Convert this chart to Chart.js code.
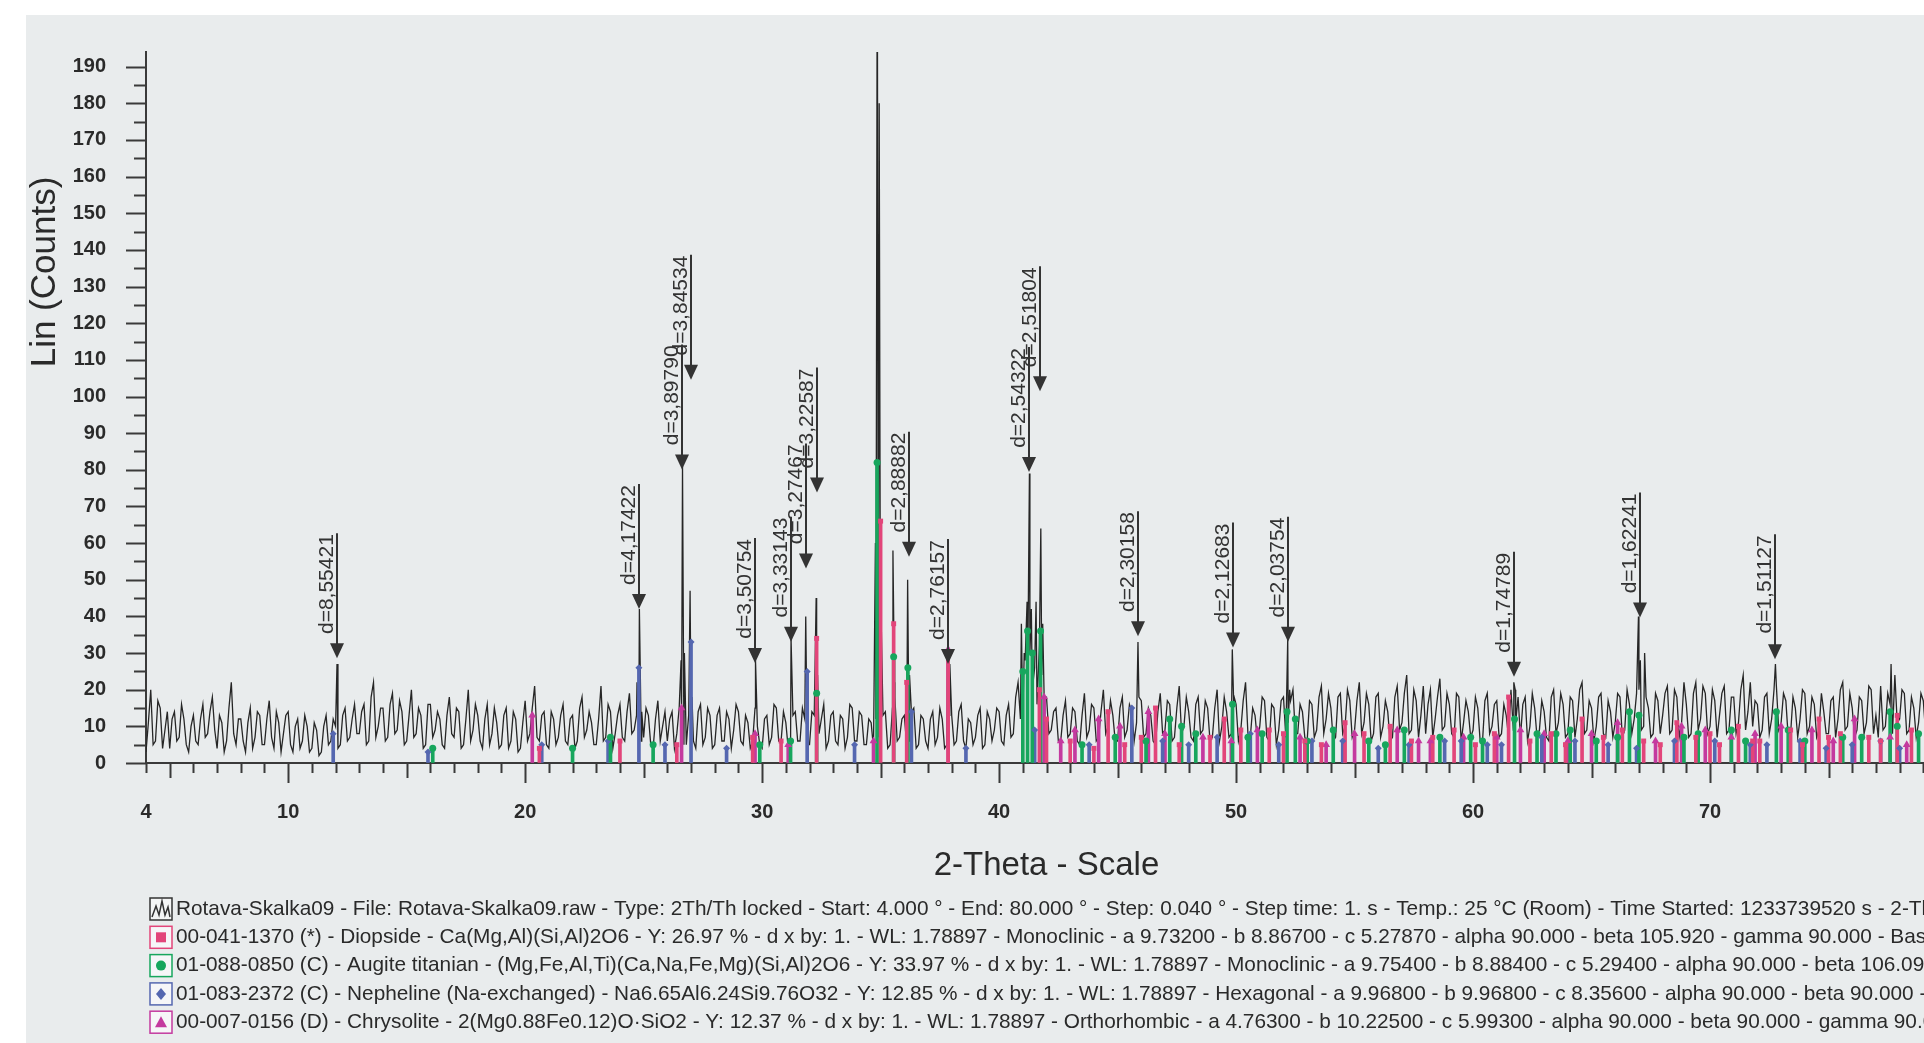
<!DOCTYPE html>
<html>
<head>
<meta charset="utf-8">
<title>Rotava-Skalka09</title>
<script src="https://cdn.jsdelivr.net/npm/chart.js@4.4.1/dist/chart.umd.min.js"></script>
<style>
  html, body { margin: 0; padding: 0; overflow: hidden; background: #fff; }
  canvas { display: block; }
</style>
</head>
<body>
<canvas id="xrd" width="1960" height="1043"></canvas>
<script>
const scanStart = 4.0
const scanStep = 0.1
const scanCounts = [
  3, 11, 20, 5, 6, 17, 15, 4, 9, 14,
  4, 12, 14, 6, 7, 16, 12, 5, 3, 10,
  13, 6, 5, 12, 16, 7, 8, 14, 18, 9,
  4, 13, 11, 3, 6, 15, 22, 8, 5, 12,
  12, 6, 3, 11, 15, 4, 7, 14, 13, 5,
  5, 12, 17, 7, 4, 14, 11, 3, 8, 13,
  14, 5, 3, 10, 12, 4, 6, 13, 10, 3,
  4, 11, 9, 2, 3, 10, 13, 5, 6, 12,
  10, 4, 5, 13, 15, 6, 7, 12, 16, 8,
  8, 14, 16, 5, 6, 18, 22, 7, 10, 15,
  15, 6, 7, 16, 19, 8, 9, 17, 14, 5,
  6, 13, 20, 7, 8, 15, 13, 4, 5, 16,
  16, 7, 9, 14, 12, 5, 4, 13, 18, 8,
  7, 15, 14, 4, 5, 12, 20, 6, 9, 16,
  13, 6, 4, 12, 16, 5, 8, 15, 11, 4,
  5, 13, 15, 4, 6, 14, 12, 3, 4, 11,
  17, 6, 8, 15, 21, 7, 6, 13, 14, 5,
  4, 14, 12, 5, 7, 13, 16, 6, 5, 12,
  13, 4, 6, 15, 18, 7, 9, 14, 11, 5,
  5, 12, 21, 6, 7, 16, 14, 4, 8, 13,
  16, 7, 6, 14, 19, 8, 9, 13, 15, 6,
  7, 15, 13, 5, 4, 12, 17, 6, 10, 14,
  6, 12, 14, 4, 8, 15, 11, 5, 5, 13,
  12, 6, 4, 14, 16, 5, 7, 15, 13, 4,
  5, 13, 15, 6, 6, 14, 12, 4, 9, 16,
  14, 6, 5, 13, 11, 4, 6, 15, 10, 5,
  4, 12, 13, 5, 7, 16, 15, 6, 6, 14,
  11, 4, 5, 13, 14, 6, 6, 15, 12, 5,
  5, 14, 13, 6, 8, 12, 16, 4, 6, 13,
  14, 6, 5, 13, 12, 4, 7, 16, 15, 6,
  6, 14, 13, 5, 5, 12, 11, 4, 12, 7,
  8, 13, 14, 4, 5, 15, 18, 6, 7, 12,
  13, 5, 6, 14, 15, 4, 5, 13, 12, 6,
  4, 12, 14, 5, 7, 15, 12, 4, 5, 13,
  13, 5, 6, 14, 16, 6, 4, 12, 11, 5,
  7, 13, 15, 4, 5, 14, 12, 6, 9, 15,
  14, 6, 5, 13, 16, 7, 8, 18, 22, 12,
  12, 28, 18, 30, 20, 26, 16, 32, 24, 18,
  18, 8, 9, 14, 15, 6, 6, 13, 17, 7,
  8, 15, 14, 6, 5, 13, 19, 7, 9, 16,
  15, 6, 7, 14, 20, 8, 10, 17, 13, 6,
  6, 15, 18, 7, 9, 16, 14, 6, 11, 18,
  17, 7, 8, 15, 13, 6, 5, 14, 19, 8,
  9, 17, 16, 6, 7, 15, 21, 8, 10, 18,
  14, 7, 6, 16, 18, 8, 9, 17, 15, 6,
  7, 15, 20, 6, 10, 18, 14, 7, 8, 16,
  16, 6, 9, 17, 22, 8, 7, 15, 13, 6,
  10, 18, 17, 7, 6, 16, 15, 5, 9, 17,
  18, 7, 11, 17, 20, 8, 8, 16, 14, 7,
  6, 17, 16, 7, 9, 18, 21, 8, 12, 19,
  15, 6, 7, 18, 19, 8, 10, 20, 17, 7,
  9, 17, 22, 8, 11, 19, 16, 6, 8, 18,
  19, 7, 10, 17, 14, 6, 7, 18, 21, 9,
  11, 19, 24, 8, 9, 20, 17, 7, 13, 21,
  8, 16, 20, 7, 12, 18, 23, 9, 10, 19,
  16, 8, 7, 19, 18, 6, 11, 17, 14, 7,
  9, 18, 15, 6, 6, 17, 19, 8, 10, 16,
  17, 7, 8, 16, 13, 7, 20, 9, 11, 18,
  7, 16, 18, 6, 10, 19, 15, 7, 9, 17,
  14, 7, 6, 18, 20, 8, 11, 19, 16, 7,
  8, 18, 17, 7, 12, 20, 22, 8, 9, 17,
  15, 6, 10, 18, 19, 8, 7, 17, 14, 7,
  11, 19, 18, 7, 9, 20, 16, 8, 12, 19,
  20, 9, 10, 18, 15, 7, 8, 19, 17, 8,
  13, 19, 21, 8, 9, 20, 18, 7, 11, 22,
  16, 7, 8, 19, 22, 9, 12, 21, 19, 8,
  10, 20, 17, 7, 13, 19, 21, 8, 9, 18,
  18, 8, 11, 20, 24, 9, 14, 22, 10, 17,
  16, 7, 9, 18, 19, 8, 12, 20, 21, 9,
  11, 19, 17, 7, 8, 18, 15, 7, 12, 20,
  19, 8, 10, 18, 16, 7, 9, 19, 14, 8,
  8, 17, 18, 7, 12, 20, 22, 9, 10, 19,
  15, 7, 9, 18, 17, 8, 11, 21, 20, 8,
  13, 7, 21, 9, 10, 19, 16, 8, 24, 11,
  12, 20, 19, 8, 9, 18, 15, 7, 11, 19,
  17, 8, 10, 18, 14, 7, 8, 17, 16, 9,
  12
]
// sharp reflections of the scan [2-theta, counts]
const peakPoints = [
  [12.06, 27], [24.72, 22], [24.82, 42], [24.92, 14], [26.58, 28], [26.64, 81], [26.72, 30],
  [26.96, 47], [27.04, 18], [29.72, 28], [31.22, 34], [31.84, 40], [32.28, 45], [32.34, 24],
  [34.78, 60], [34.86, 235], [34.94, 180], [35.02, 40], [35.52, 58], [35.58, 22], [36.14, 50],
  [36.22, 24], [37.82, 30], [37.92, 27], [40.94, 38], [41.06, 30], [41.18, 44], [41.28, 79],
  [41.36, 42], [41.56, 44], [41.76, 64], [41.84, 38], [45.86, 33], [49.84, 31], [49.92, 18],
  [52.18, 34], [52.26, 20], [61.72, 22], [61.78, 20], [66.98, 40], [67.06, 28], [67.24, 30],
  [72.76, 27], [77.64, 27]
]

// d-spacing markers: label, 2-theta, counts at arrow tip
const dLabels = ['d=8,55421', 'd=4,17422', 'd=3,89790', 'd=3,84534', 'd=3,50754', 'd=3,33143',
  'd=3,27467', 'd=3,22587', 'd=2,88882', 'd=2,76157', 'd=2,54322', 'd=2,51804', 'd=2,30158',
  'd=2,12683', 'd=2,03754', 'd=1,74789', 'd=1,62241', 'd=1,51127']
const dTheta = [12.07, 24.81, 26.62, 26.98, 29.72, 31.23, 31.85, 32.31, 36.19, 37.85, 41.27, 41.73,
  45.87, 49.86, 52.19, 61.71, 67.04, 72.74]
const dTip = [28.6, 42.0, 80.1, 104.6, 27.3, 33.1, 53.1, 73.8, 56.3, 27.0, 79.4, 101.4,
  34.6, 31.5, 33.1, 23.5, 39.7, 28.3]

// reference patterns (stick positions and heights)
const diopside2T = [20.6, 24.0, 26.4, 29.6, 30.8, 32.3, 35.0, 35.55, 36.1, 37.85, 41.7, 42.0, 43.0, 44.0,
  44.6, 45.3, 46.0, 46.6, 47.6, 48.9, 49.5, 50.2, 51.4, 52.0, 52.9, 53.6, 54.6, 55.4, 56.5, 57.4, 58.3,
  59.2, 60.1, 60.9, 61.5, 62.4, 63.3, 63.9, 64.6, 65.5, 66.3, 67.2, 67.9, 68.6, 69.4, 70.0, 70.4, 71.2,
  71.8, 72.1, 73.4, 73.9, 74.6, 75.0, 75.5, 76.7, 77.2, 77.9, 78.5]
const diopsideI = [4, 6, 5, 7, 6, 34, 66, 38, 22, 30, 20, 12, 6, 4, 14, 5, 7, 15, 5, 7, 12, 9, 9, 8, 6,
  5, 11, 8, 10, 6, 7, 9, 5, 8, 18, 6, 8, 5, 12, 7, 9, 6, 5, 11, 7, 8, 5, 10, 6, 6, 9, 5, 12, 7, 8, 7,
  6, 13, 9]
const augite2T = [16.1, 22.0, 23.6, 25.4, 29.9, 31.2, 32.3, 34.85, 35.55, 36.15, 41.0, 41.2, 41.4, 41.75,
  43.5, 44.9, 46.2, 47.2, 47.7, 48.3, 49.85, 50.5, 51.1, 52.15, 52.5, 53.0, 54.1, 55.6, 56.3, 57.1, 58.6,
  59.9, 60.4, 61.75, 62.7, 63.5, 64.1, 65.2, 66.1, 66.6, 67.0, 68.9, 69.5, 70.9, 71.5, 72.8, 73.3, 74.0,
  75.6, 76.4, 77.6, 77.9, 78.8]
const augiteI = [4, 4, 7, 5, 5, 6, 19, 82, 29, 26, 25, 36, 30, 36, 5, 7, 6, 12, 10, 8, 16, 7, 8, 14, 12,
  6, 9, 6, 5, 9, 7, 7, 6, 12, 8, 8, 9, 6, 7, 14, 13, 7, 8, 9, 6, 14, 9, 6, 7, 7, 14, 10, 8]
const nepheline2T = [11.9, 15.9, 20.7, 23.5, 24.8, 25.9, 27.0, 28.5, 31.9, 33.9, 36.3, 38.6, 41.5, 43.8,
  45.6, 46.9, 48.0, 49.2, 50.6, 51.8, 53.2, 54.5, 56.0, 57.3, 58.8, 59.5, 60.6, 61.2, 62.9, 64.3, 65.7,
  66.9, 68.5, 70.2, 71.7, 72.4, 73.8, 74.9, 76.0, 77.2, 78.0]
const nephelineI = [8, 3, 5, 6, 26, 5, 33, 4, 25, 5, 14, 4, 9, 5, 15, 6, 5, 7, 8, 5, 6, 6, 4, 5, 6, 6, 5,
  5, 7, 6, 5, 4, 6, 6, 5, 5, 6, 4, 5, 6, 4]
const chrysolite2T = [20.3, 26.6, 29.7, 31.1, 34.7, 37.85, 41.9, 42.6, 43.2, 44.2, 45.1, 46.3, 47.0, 48.6,
  49.8, 50.9, 52.7, 53.8, 55.0, 56.8, 57.7, 58.2, 59.6, 61.0, 62.0, 63.0, 64.0, 65.0, 66.1, 67.7, 68.8,
  69.8, 70.9, 71.9, 73.0, 74.3, 75.2, 76.1, 77.6, 78.3]
const chrysoliteI = [13, 15, 8, 5, 6, 31, 18, 6, 9, 12, 10, 14, 8, 7, 6, 9, 7, 5, 8, 9, 6, 6, 7, 7, 9, 8,
  6, 8, 11, 6, 10, 9, 7, 8, 10, 9, 6, 12, 7, 5]

const xTickValues = [4, 10, 20, 30, 40, 50, 60, 70]
const yTickValues = [0, 10, 20, 30, 40, 50, 60, 70, 80, 90, 100, 110, 120, 130, 140, 150, 160, 170, 180, 190]

const scanLabel = 'Rotava-Skalka09 - File: Rotava-Skalka09.raw - Type: 2Th/Th locked - Start: 4.000 ° - End: 80.000 ° - Step: 0.040 ° - Step time: 1. s - Temp.: 25 °C (Room) - Time Started: 1233739520 s - 2-Theta: 4.000 °'
const phaseLabels = [
  '00-041-1370 (*) - Diopside - Ca(Mg,Al)(Si,Al)2O6 - Y: 26.97 % - d x by: 1. - WL: 1.78897 - Monoclinic - a 9.73200 - b 8.86700 - c 5.27870 - alpha 90.000 - beta 105.920 - gamma 90.000 - Base-centered',
  '01-088-0850 (C) - Augite titanian - (Mg,Fe,Al,Ti)(Ca,Na,Fe,Mg)(Si,Al)2O6 - Y: 33.97 % - d x by: 1. - WL: 1.78897 - Monoclinic - a 9.75400 - b 8.88400 - c 5.29400 - alpha 90.000 - beta 106.090 - gamma 90.000',
  '01-083-2372 (C) - Nepheline (Na-exchanged) - Na6.65Al6.24Si9.76O32 - Y: 12.85 % - d x by: 1. - WL: 1.78897 - Hexagonal - a 9.96800 - b 9.96800 - c 8.35600 - alpha 90.000 - beta 90.000 - gamma 120.000',
  '00-007-0156 (D) - Chrysolite - 2(Mg0.88Fe0.12)O·SiO2 - Y: 12.37 % - d x by: 1. - WL: 1.78897 - Orthorhombic - a 4.76300 - b 10.22500 - c 5.99300 - alpha 90.000 - beta 90.000 - gamma 90.000'
]
const phaseColors = ['#e2457a', '#17a65d', '#5567b0', '#c43a9f']
const phaseMarkers = ['rect', 'circle', 'rectRot', 'triangle']

const FONT = '"Liberation Sans", Arial, sans-serif'
const INK = '#2a2a2a'

// build line data: regular scan points plus the sharp peaks, sorted by 2-theta
const scanPoints = scanCounts.map((c, i) => ({ x: +(scanStart + i * scanStep).toFixed(2), y: c }))
const linePoints = scanPoints.concat(peakPoints.map(p => ({ x: p[0], y: p[1] }))).sort((a, b) => a.x - b.x)

const phases = [[diopside2T, diopsideI], [augite2T, augiteI], [nepheline2T, nephelineI], [chrysolite2T, chrysoliteI]]

const datasets = [{
    type: 'line',
    label: scanLabel,
    data: linePoints,
    borderColor: '#262626',
    borderWidth: 1.3,
    pointRadius: 0,
    tension: 0,
    order: 10
}]
phases.forEach(([pos, inten], k) => {
    const pts = pos.map((x, i) => ({ x: x, y: inten[i] }))
    datasets.push({
        type: 'bar',
        label: phaseLabels[k],
        data: pts,
        backgroundColor: phaseColors[k],
        barThickness: 3,
        grouped: false,
        borderWidth: 0,
        order: 5
    })
    datasets.push({
        type: 'scatter',
        label: phaseLabels[k] + ' markers',
        data: pts,
        pointStyle: phaseMarkers[k],
        pointRadius: phaseMarkers[k] === 'triangle' ? 4.5 : 3.5,
        backgroundColor: phaseColors[k],
        borderWidth: 0,
        order: 1
    })
})

// page background: grey scan area, white margins
const backdrop = {
    id: 'backdrop',
    beforeDraw(chart) {
        const c = chart.ctx
        c.save()
        c.fillStyle = '#fff'
        c.fillRect(0, 0, chart.width, chart.height)
        c.fillStyle = '#e9eced'
        c.fillRect(26, 15, chart.width - 26, chart.height - 15)
        c.restore()
    }
}

// tick marks of three lengths, y-axis title
const axisDecor = {
    id: 'axisDecor',
    afterDraw(chart) {
        const c = chart.ctx
        const x = chart.scales.x, y = chart.scales.y
        const area = chart.chartArea
        c.save()
        c.strokeStyle = '#3a3a3a'
        c.lineWidth = 2
        c.beginPath()
        for (let v = 4; v <= 80; v++) {
            const px = Math.round(x.getPixelForValue(v)) + 0.5
            const len = v % 10 === 0 ? 20 : (v % 5 === 0 ? 15 : 10)
            c.moveTo(px, area.bottom)
            c.lineTo(px, area.bottom + len)
        }
        for (let v = 0; v <= 190; v += 5) {
            const py = Math.round(y.getPixelForValue(v)) + 0.5
            const len = v % 10 === 0 ? 20 : 12
            c.moveTo(area.left, py)
            c.lineTo(area.left - len, py)
        }
        c.stroke()

        c.translate(45, 272)
        c.rotate(-Math.PI / 2)
        c.fillStyle = INK
        c.font = '35px ' + FONT
        c.textAlign = 'center'
        c.textBaseline = 'middle'
        c.fillText('Lin (Counts)', 0, 0)
        c.restore()
    }
}

// d-spacing arrows with rotated labels
const dMarks = {
    id: 'dMarks',
    afterDatasetsDraw(chart) {
        const c = chart.ctx
        const x = chart.scales.x, y = chart.scales.y
        c.save()
        c.strokeStyle = '#333'
        c.fillStyle = '#333'
        c.lineWidth = 2
        c.font = '21px ' + FONT
        dLabels.forEach((txt, i) => {
            const px = Math.round(x.getPixelForValue(dTheta[i]))
            const tip = y.getPixelForValue(dTip[i])
            const top = tip - 125
            c.beginPath()
            c.moveTo(px, top)
            c.lineTo(px, tip - 12)
            c.stroke()
            c.beginPath()
            c.moveTo(px - 7, tip - 15)
            c.lineTo(px + 7, tip - 15)
            c.lineTo(px, tip)
            c.closePath()
            c.fill()
            c.save()
            c.translate(px - 4, top + 1)
            c.rotate(-Math.PI / 2)
            c.textAlign = 'right'
            c.textBaseline = 'alphabetic'
            c.fillText(txt, 0, 0)
            c.restore()
        })
        c.restore()
    }
}

// legend block under the axis title
const legendBlock = {
    id: 'legendBlock',
    afterDraw(chart) {
        const c = chart.ctx
        const rows = [chart.data.datasets[0].label].concat(phaseLabels)
        c.save()
        c.font = '20.8px ' + FONT
        c.textBaseline = 'middle'
        rows.forEach((txt, i) => {
            const cy = 909 + i * 28.3
            const bx = 150, by = cy - 11, s = 22
            c.lineWidth = 1.5
            if (i === 0) {
                c.fillStyle = '#f4f5f5'
                c.fillRect(bx, by, s, s)
                c.strokeStyle = '#333'
                c.strokeRect(bx, by, s, s)
                c.beginPath()
                c.moveTo(bx + 2, by + 19)
                c.lineTo(bx + 6, by + 8)
                c.lineTo(bx + 9, by + 17)
                c.lineTo(bx + 12, by + 3)
                c.lineTo(bx + 15, by + 17)
                c.lineTo(bx + 18, by + 9)
                c.lineTo(bx + 20, by + 19)
                c.stroke()
            } else {
                const col = phaseColors[i - 1]
                c.fillStyle = '#f6f6f8'
                c.fillRect(bx, by, s, s)
                c.strokeStyle = col
                c.strokeRect(bx, by, s, s)
                c.fillStyle = col
                const mx = bx + s / 2, my = cy
                const m = phaseMarkers[i - 1]
                c.beginPath()
                if (m === 'rect') c.rect(mx - 5, my - 5, 10, 10)
                else if (m === 'circle') c.arc(mx, my, 5, 0, Math.PI * 2)
                else if (m === 'rectRot') { c.moveTo(mx, my - 6); c.lineTo(mx + 5, my); c.lineTo(mx, my + 6); c.lineTo(mx - 5, my) }
                else { c.moveTo(mx, my - 6); c.lineTo(mx + 6, my + 5); c.lineTo(mx - 6, my + 5) }
                c.closePath()
                c.fill()
            }
            c.fillStyle = INK
            c.fillText(txt, 176, cy)
        })
        c.restore()
    }
}

const ctx = document.getElementById('xrd').getContext('2d')

new Chart(ctx, {
    type: 'scatter',
    data: { datasets: datasets },
    options: {
        responsive: false,
        animation: false,
        events: [],
        layout: { padding: { top: 15, right: 13, bottom: 153, left: 0 } },
        plugins: {
            legend: { display: false },
            tooltip: { enabled: false }
        },
        scales: {
            x: {
                type: 'linear',
                min: 4,
                max: 80,
                offset: false,
                afterBuildTicks: s => { s.ticks = xTickValues.map(v => ({ value: v })) },
                afterFit: s => { s.height = 127 },
                grid: { drawOnChartArea: false, drawTicks: false },
                border: { display: true, color: '#3a3a3a', width: 2 },
                ticks: {
                    padding: 37,
                    autoSkip: false,
                    maxRotation: 0,
                    color: INK,
                    font: { family: FONT, size: 20, weight: 'bold' },
                    callback: v => String(v)
                },
                title: {
                    display: true,
                    text: '2-Theta - Scale',
                    color: INK,
                    font: { family: FONT, size: 33 },
                    padding: { top: 0, bottom: 4 }
                }
            },
            y: {
                type: 'linear',
                min: 0,
                max: 194,
                afterBuildTicks: s => { s.ticks = yTickValues.map(v => ({ value: v })) },
                afterFit: s => { s.width = 146 },
                grid: { drawOnChartArea: false, drawTicks: false },
                border: { display: true, color: '#3a3a3a', width: 2 },
                ticks: {
                    padding: 40,
                    color: INK,
                    font: { family: FONT, size: 20, weight: 'bold' },
                    callback: v => String(v)
                }
            }
        }
    },
    plugins: [backdrop, axisDecor, dMarks, legendBlock]
});
</script>
</body>
</html>
